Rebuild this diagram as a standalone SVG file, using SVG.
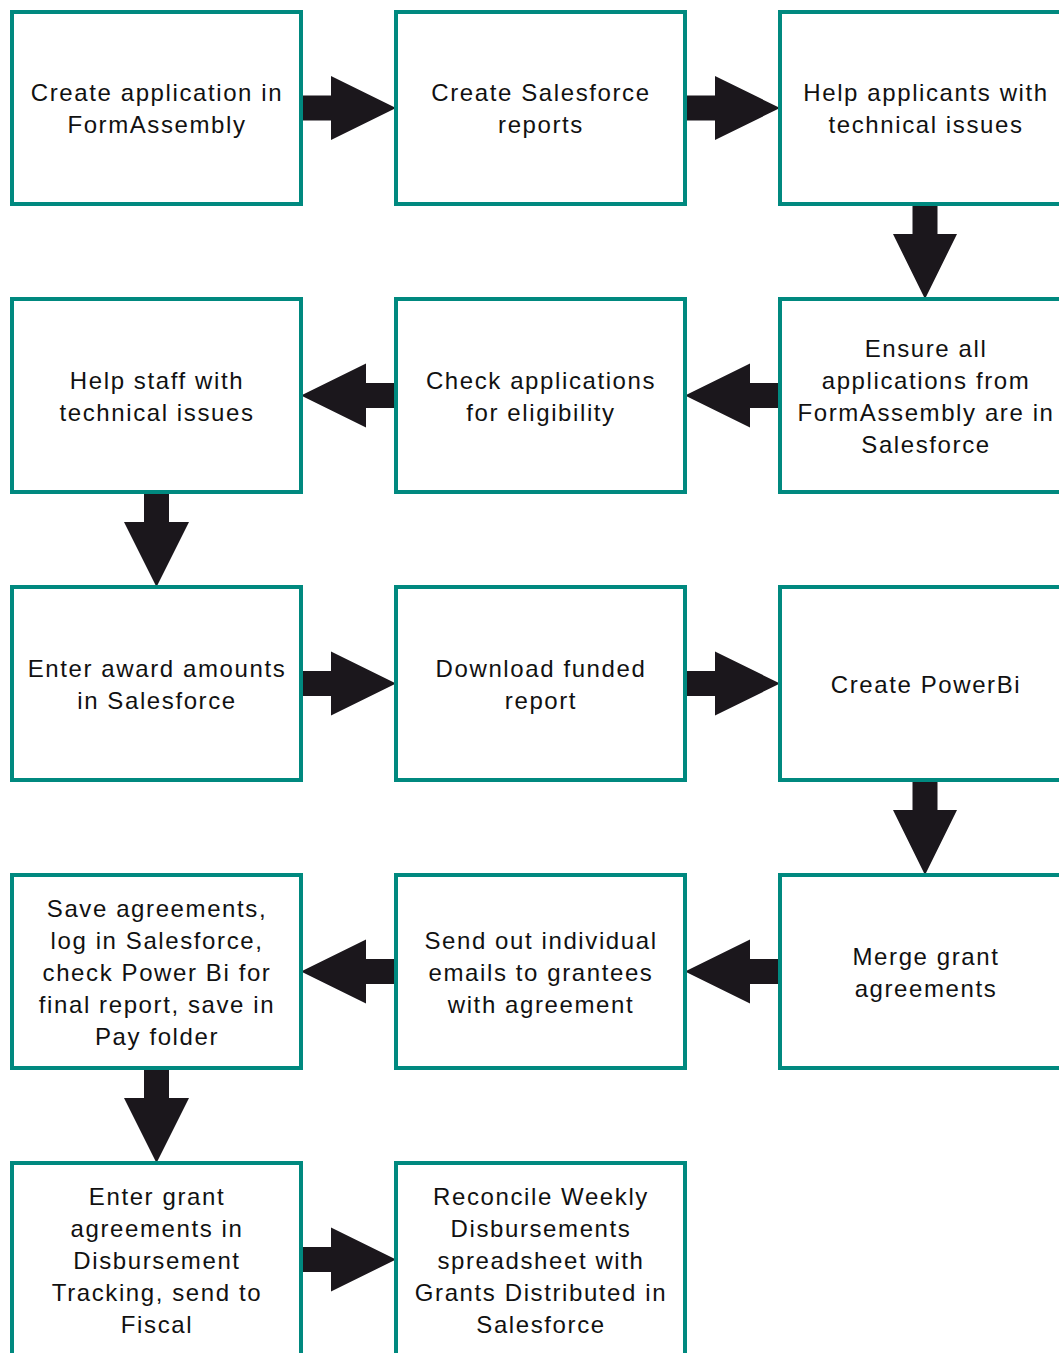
<svg xmlns="http://www.w3.org/2000/svg" width="1059" height="1353" viewBox="0 0 1059 1353">
<style>
.box{fill:#fff;stroke:#00897f;stroke-width:4}
.t{font-family:"Liberation Sans",Arial,sans-serif;font-size:24px;letter-spacing:1.6px;fill:#111;text-anchor:middle}
.arr{fill:#1b171c}
</style>
<rect width="1059" height="1353" fill="#fff"/>
<g id="connectors">
<polygon class="arr" points="301,95.5 331,95.5 331,76 396,108 331,140 331,120.5 301,120.5"/>
<polygon class="arr" points="685,95.5 715,95.5 715,76 780,108 715,140 715,120.5 685,120.5"/>
<polygon class="arr" points="912.5,204 937.5,204 937.5,234 957,234 925,299 893,234 912.5,234"/>
<polygon class="arr" points="780,383 750,383 750,363.5 685,395.5 750,427.5 750,408 780,408"/>
<polygon class="arr" points="396,383 366,383 366,363.5 301,395.5 366,427.5 366,408 396,408"/>
<polygon class="arr" points="144,492 169,492 169,522 189,522 156.5,587 124,522 144,522"/>
<polygon class="arr" points="301,671 331,671 331,651.5 396,683.5 331,715.5 331,696 301,696"/>
<polygon class="arr" points="685,671 715,671 715,651.5 780,683.5 715,715.5 715,696 685,696"/>
<polygon class="arr" points="912.5,780 937.5,780 937.5,810 957,810 925,875 893,810 912.5,810"/>
<polygon class="arr" points="780,959 750,959 750,939.5 685,971.5 750,1003.5 750,984 780,984"/>
<polygon class="arr" points="396,959 366,959 366,939.5 301,971.5 366,1003.5 366,984 396,984"/>
<polygon class="arr" points="144,1068 169,1068 169,1098 189,1098 156.5,1163 124,1098 144,1098"/>
<polygon class="arr" points="301,1247 331,1247 331,1227.5 396,1259.5 331,1291.5 331,1272 301,1272"/>
</g>
<g id="n1"><rect class="box" x="12" y="12" width="289" height="192"/><text class="t" x="157" y="101">Create application in</text><text class="t" x="157" y="133">FormAssembly</text></g>
<g id="n2"><rect class="box" x="396" y="12" width="289" height="192"/><text class="t" x="541" y="101">Create Salesforce</text><text class="t" x="541" y="133">reports</text></g>
<g id="n3"><rect class="box" x="780" y="12" width="290" height="192"/><text class="t" x="926" y="101">Help applicants with</text><text class="t" x="926" y="133">technical issues</text></g>
<g id="n4"><rect class="box" x="780" y="299" width="290" height="193"/><text class="t" x="926" y="357">Ensure all</text><text class="t" x="926" y="389">applications from</text><text class="t" x="926" y="421">FormAssembly are in</text><text class="t" x="926" y="453">Salesforce</text></g>
<g id="n5"><rect class="box" x="396" y="299" width="289" height="193"/><text class="t" x="541" y="389">Check applications</text><text class="t" x="541" y="421">for eligibility</text></g>
<g id="n6"><rect class="box" x="12" y="299" width="289" height="193"/><text class="t" x="157" y="389">Help staff with</text><text class="t" x="157" y="421">technical issues</text></g>
<g id="n7"><rect class="box" x="12" y="587" width="289" height="193"/><text class="t" x="157" y="677">Enter award amounts</text><text class="t" x="157" y="709">in Salesforce</text></g>
<g id="n8"><rect class="box" x="396" y="587" width="289" height="193"/><text class="t" x="541" y="677">Download funded</text><text class="t" x="541" y="709">report</text></g>
<g id="n9"><rect class="box" x="780" y="587" width="290" height="193"/><text class="t" x="926" y="693">Create PowerBi</text></g>
<g id="n10"><rect class="box" x="780" y="875" width="290" height="193"/><text class="t" x="926" y="965">Merge grant</text><text class="t" x="926" y="997">agreements</text></g>
<g id="n11"><rect class="box" x="396" y="875" width="289" height="193"/><text class="t" x="541" y="949">Send out individual</text><text class="t" x="541" y="981">emails to grantees</text><text class="t" x="541" y="1013">with agreement</text></g>
<g id="n12"><rect class="box" x="12" y="875" width="289" height="193"/><text class="t" x="157" y="917">Save agreements,</text><text class="t" x="157" y="949">log in Salesforce,</text><text class="t" x="157" y="981">check Power Bi for</text><text class="t" x="157" y="1013">final report, save in</text><text class="t" x="157" y="1045">Pay folder</text></g>
<g id="n13"><rect class="box" x="12" y="1163" width="289" height="193"/><text class="t" x="157" y="1205">Enter grant</text><text class="t" x="157" y="1237">agreements in</text><text class="t" x="157" y="1269">Disbursement</text><text class="t" x="157" y="1301">Tracking, send to</text><text class="t" x="157" y="1333">Fiscal</text></g>
<g id="n14"><rect class="box" x="396" y="1163" width="289" height="193"/><text class="t" x="541" y="1205">Reconcile Weekly</text><text class="t" x="541" y="1237">Disbursements</text><text class="t" x="541" y="1269">spreadsheet with</text><text class="t" x="541" y="1301">Grants Distributed in</text><text class="t" x="541" y="1333">Salesforce</text></g>
</svg>
